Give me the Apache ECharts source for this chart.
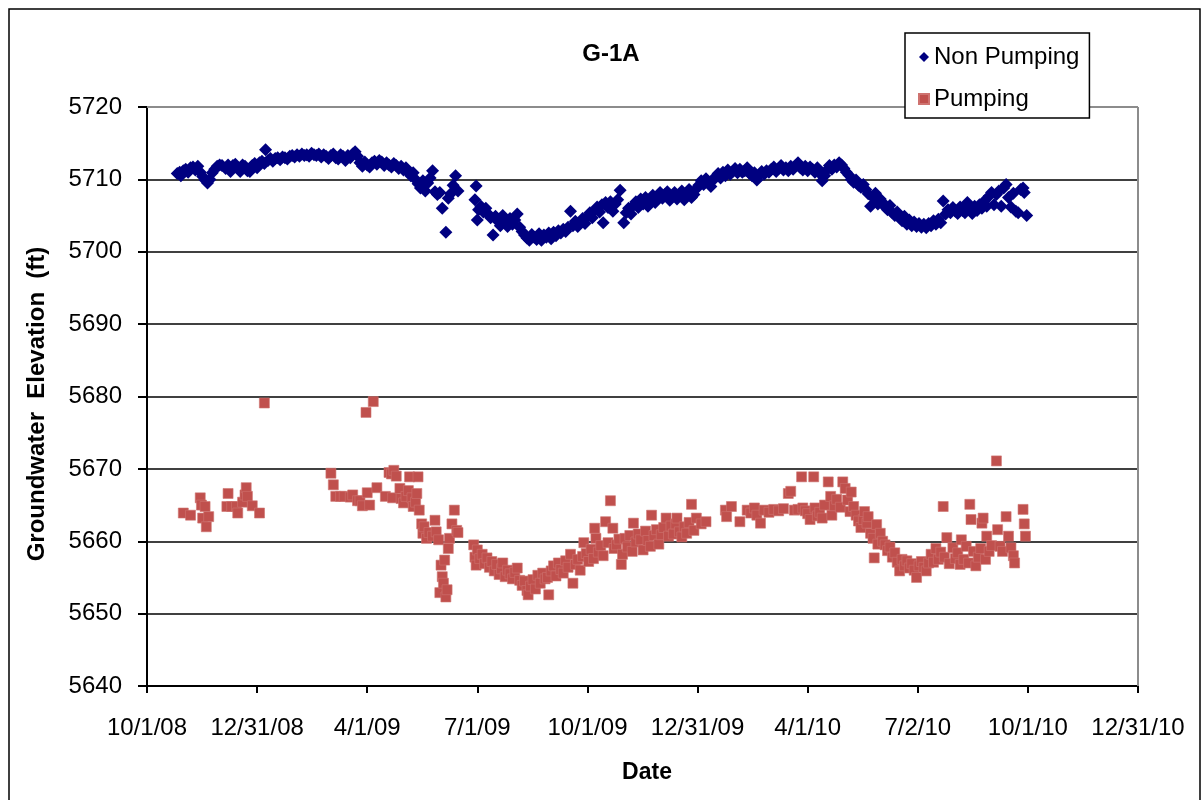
<!DOCTYPE html>
<html>
<head>
<meta charset="utf-8">
<script src="https://cdn.jsdelivr.net/npm/echarts@6/dist/echarts.min.js"></script>
<style>
html,body{margin:0;padding:0;background:#fff;}
#chart{width:1203px;height:800px;}
</style>
</head>
<body>
<div id="chart"></div>
<script>
// x values are days since 10/1/08
const xTickLabels = ['10/1/08','12/31/08','4/1/09','7/1/09','10/1/09','12/31/09','4/1/10','7/2/10','10/1/10','12/31/10'];

const nonPumpingDays = [
25,27,28,30,32,34,36,38,40,42,
44,46,48,50,52,54,56,58,60,62,
65,67,69,71,73,75,77,79,81,83,
85,87,89,91,93,95,97,98,100,102,
104,106,108,110,112,114,116,118,120,122,
124,126,128,130,132,134,136,138,140,142,
144,146,148,150,152,154,156,158,160,162,
164,166,168,170,172,174,176,178,180,182,
184,186,188,190,192,194,196,198,200,202,
204,206,208,210,212,214,216,218,220,222,
224,226,228,230,232,234,236,238,240,242,
244,247,249,251,253,255,257,271,272,273,
274,276,278,280,282,284,286,288,290,292,
294,296,298,300,302,304,306,308,310,312,
314,316,318,320,322,324,326,328,330,332,
334,336,338,340,342,344,346,348,350,352,
354,356,358,360,362,364,366,368,370,372,
374,376,377,379,381,383,385,387,389,391,
394,396,398,400,402,404,406,408,410,412,
414,416,418,420,422,424,426,428,430,432,
434,436,438,440,442,444,446,448,450,452,
454,456,458,460,462,464,466,468,470,472,
474,476,478,480,482,484,486,488,490,492,
494,496,498,500,502,504,506,508,510,512,
514,516,518,520,522,524,526,528,530,532,
534,536,538,540,542,544,546,548,550,552,
554,556,558,560,562,564,566,568,570,572,
574,576,578,580,582,584,586,588,590,592,
594,596,598,600,602,604,606,608,610,612,
614,616,618,620,622,624,626,628,630,632,
634,636,638,640,642,644,646,648,650,652,
654,656,658,660,662,664,666,668,670,672,
674,676,678,680,682,684,686,688,690,692,
694,696,698,700,702,704,706,708,710,712,
714,716,718,720,722,724,725,727
];
const nonPumpingValues = [
5710.8,5711.0,5710.5,5711.2,5711.4,5711.0,5711.6,5711.7,5711.3,5711.8,
5711.0,5710.4,5709.9,5709.5,5710.0,5710.9,5711.4,5711.8,5712.0,5711.9,
5711.5,5712.0,5711.1,5711.9,5712.1,5711.6,5711.1,5712.0,5711.8,5711.2,
5711.1,5711.9,5712.2,5711.6,5712.3,5712.5,5712.2,5714.1,5712.6,5712.9,
5712.5,5712.9,5713.0,5712.7,5713.1,5713.0,5712.8,5713.2,5713.3,5713.1,
5713.4,5713.2,5713.5,5713.3,5713.4,5713.2,5713.6,5713.4,5713.3,5713.5,
5713.1,5713.4,5713.2,5712.9,5713.3,5713.5,5713.0,5712.8,5713.4,5713.2,
5712.6,5713.3,5713.0,5713.5,5713.8,5713.2,5712.3,5711.8,5712.4,5712.0,
5711.7,5712.3,5712.5,5712.1,5712.6,5712.4,5711.9,5712.3,5712.0,5711.7,
5712.2,5711.9,5711.5,5711.8,5711.3,5711.6,5711.0,5710.5,5710.9,5710.0,
5709.4,5708.8,5709.8,5708.4,5709.5,5710.2,5711.2,5708.3,5707.9,5708.2,
5706.0,5702.7,5707.4,5708.0,5709.2,5710.5,5708.4,5707.2,5709.1,5704.4,
5705.8,5706.3,5705.5,5706.0,5705.2,5704.7,5702.3,5704.9,5704.2,5703.6,
5705.0,5704.1,5703.5,5704.6,5703.8,5704.4,5705.2,5703.4,5702.8,5702.3,
5701.9,5701.6,5702.4,5702.0,5701.7,5702.5,5701.6,5702.3,5702.0,5702.6,
5701.8,5702.7,5702.2,5702.9,5702.6,5703.1,5702.8,5703.4,5705.6,5703.6,
5704.2,5703.5,5704.0,5704.6,5703.9,5704.8,5705.4,5704.7,5705.7,5706.2,
5705.5,5706.5,5704.0,5706.8,5706.1,5706.9,5705.6,5706.6,5707.2,5708.5,
5704.0,5705.4,5706.0,5705.2,5706.4,5706.9,5706.1,5707.3,5706.6,5707.5,
5706.3,5707.0,5707.8,5706.8,5707.6,5708.2,5707.4,5707.9,5708.3,5707.1,
5707.6,5708.2,5707.3,5707.8,5708.4,5707.2,5708.0,5708.6,5707.5,5707.9,
5708.7,5709.2,5709.8,5709.3,5710.1,5709.5,5709.0,5709.9,5710.4,5710.8,
5710.2,5711.0,5710.5,5711.3,5710.7,5711.1,5711.5,5710.9,5711.4,5711.0,
5711.2,5711.6,5710.8,5710.5,5710.9,5709.9,5710.6,5711.1,5710.7,5711.2,
5711.0,5711.4,5711.7,5711.1,5711.5,5711.9,5711.3,5711.6,5711.2,5711.8,
5711.4,5711.9,5712.3,5711.6,5711.3,5711.8,5711.2,5711.7,5711.4,5711.0,
5711.6,5710.8,5709.8,5710.5,5711.3,5711.9,5711.4,5712.0,5711.7,5712.3,
5712.0,5711.5,5711.0,5710.6,5710.0,5709.6,5709.9,5709.2,5708.9,5709.3,
5708.6,5708.0,5706.3,5707.5,5708.1,5706.6,5707.3,5706.8,5706.2,5705.8,
5706.4,5705.4,5705.0,5705.5,5704.7,5704.3,5704.9,5703.8,5704.4,5703.6,
5704.1,5703.5,5703.9,5703.4,5703.8,5703.3,5703.9,5703.6,5704.3,5703.8,
5704.5,5704.0,5707.0,5705.2,5705.8,5705.4,5706.1,5705.6,5705.3,5706.2,
5705.7,5705.4,5706.8,5705.9,5705.3,5706.3,5705.7,5706.5,5706.0,5707.0,
5706.3,5707.7,5708.2,5706.5,5707.9,5708.4,5706.3,5708.8,5709.3,5707.5,
5706.2,5708.1,5705.6,5705.4,5708.6,5708.8,5708.2,5705.0
];

const pumpingDays = [
30,36,44,45,46,48,49,51,66,67,
70,74,75,79,81,82,83,87,93,97,
152,154,156,160,163,168,170,174,176,178,
181,182,184,187,190,197,200,202,204,206,
203,209,210,212,214,216,217,219,220,222,
223,224,225,227,228,229,231,233,236,238,
239,241,242,243,244,245,246,247,248,249,
250,252,254,256,257,270,271,272,273,275,
277,279,281,283,285,287,289,291,293,294,
296,298,300,302,304,306,308,310,312,314,
315,317,319,321,323,325,327,329,331,332,
334,336,338,340,342,344,346,348,350,352,
354,356,358,360,361,363,365,367,369,370,
371,373,375,377,379,381,383,385,386,388,
390,392,393,395,397,399,401,402,404,406,
408,410,412,414,416,417,419,421,423,425,
427,429,431,433,435,437,438,440,442,444,
446,448,450,452,454,458,462,478,479,483,
490,496,499,502,504,507,510,514,518,522,
526,530,532,535,538,541,542,544,546,548,
551,552,554,556,558,560,563,565,566,568,
570,573,575,577,579,581,582,584,586,588,
590,592,593,595,596,598,600,601,603,604,
606,608,610,612,614,616,618,620,622,624,
626,628,630,632,634,636,638,640,642,644,
646,648,650,652,654,656,658,659,661,663,
666,668,670,672,673,675,677,679,680,681,
683,685,687,689,690,691,693,694,696,698,
702,703,705,707,710,712,714,716,717,724,
725,726
];
const pumpingValues = [
5663.9,5663.6,5666.0,5665.0,5663.2,5664.8,5662.0,5663.4,5664.8,5666.6,
5664.8,5664.8,5663.9,5665.4,5666.4,5667.4,5666.2,5664.9,5663.9,5679.1,
5669.4,5667.8,5666.2,5666.2,5666.2,5666.1,5666.4,5665.6,5665.6,5664.9,
5677.8,5666.7,5665.0,5679.3,5667.4,5666.2,5669.5,5669.3,5669.8,5669.0,
5666.0,5667.3,5665.9,5665.3,5666.2,5667.0,5668.9,5666.0,5664.8,5665.4,
5666.6,5668.9,5664.3,5662.4,5661.1,5662.0,5660.4,5661.2,5660.7,5662.9,
5661.3,5660.2,5652.9,5656.7,5655.1,5654.2,5657.4,5652.3,5653.3,5659.0,
5660.4,5662.4,5664.3,5661.5,5661.2,5659.5,5657.8,5656.7,5658.8,5657.6,
5658.2,5656.9,5657.7,5656.4,5657.2,5655.9,5656.8,5655.4,5656.2,5657.0,
5655.1,5656.0,5655.5,5654.8,5655.7,5656.3,5654.6,5653.9,5654.5,5653.2,
5652.6,5653.8,5654.7,5653.4,5655.3,5654.2,5655.6,5654.8,5655.0,5652.6,
5655.9,5656.6,5655.2,5657.0,5656.1,5655.6,5657.3,5656.4,5658.2,5654.2,
5656.8,5657.5,5656.0,5657.9,5659.8,5658.3,5657.2,5658.9,5657.6,5661.8,
5660.4,5658.5,5659.4,5658.0,5662.7,5659.8,5665.6,5661.8,5659.0,5659.5,
5660.3,5656.8,5658.2,5660.4,5659.2,5660.8,5658.6,5662.5,5659.9,5661.0,
5660.2,5658.8,5661.4,5660.1,5659.3,5663.6,5660.8,5661.6,5659.6,5660.9,
5661.9,5663.2,5660.7,5662.1,5661.0,5662.4,5663.2,5661.3,5660.6,5662.0,
5661.1,5662.6,5665.1,5661.5,5663.2,5662.4,5662.7,5664.3,5663.4,5664.8,
5662.7,5664.3,5663.9,5664.6,5663.6,5662.5,5664.3,5664.0,5664.4,5664.2,
5664.5,5666.6,5666.9,5664.3,5664.4,5668.9,5664.6,5664.2,5663.8,5663.0,
5668.9,5664.6,5663.5,5664.0,5663.2,5665.0,5668.2,5666.2,5663.6,5664.9,
5665.8,5664.7,5668.2,5667.3,5665.7,5664.1,5666.8,5664.8,5663.6,5662.8,
5661.9,5663.0,5664.1,5662.5,5663.4,5661.1,5660.4,5657.7,5662.3,5659.6,
5661.1,5660.0,5659.5,5658.7,5659.2,5657.8,5658.4,5657.1,5655.9,5657.5,
5656.6,5657.3,5656.3,5656.9,5656.0,5655.0,5656.6,5657.2,5656.4,5655.9,
5657.0,5658.2,5657.1,5659.0,5657.5,5658.5,5664.8,5657.8,5660.5,5656.9,
5659.1,5657.6,5658.4,5656.8,5660.2,5657.5,5659.3,5657.0,5665.1,5663.0,
5658.6,5656.6,5657.8,5659.0,5662.5,5663.2,5657.5,5660.7,5658.6,5659.4,
5671.1,5661.6,5659.3,5658.6,5663.4,5660.7,5659.1,5658.0,5657.0,5664.4,
5662.4,5660.7
];

const FONT = '"Liberation Sans", Arial, sans-serif';
const pair = (xs, ys) => xs.map((d, i) => [d, ys[i]]);

const chart = echarts.init(document.getElementById('chart'), null, {renderer: 'canvas'});
chart.setOption({
  animation: false,
  backgroundColor: '#fff',
  grid: {left: 147, right: 65, top: 107, bottom: 114, containLabel: false},
  legend: {
    orient: 'vertical',
    left: 905, top: 33,
    padding: [12, 10, 7, 13],
    itemGap: 18,
    itemWidth: 10, itemHeight: 10,
    backgroundColor: '#fff',
    borderColor: '#000', borderWidth: 1.5,
    textStyle: {fontFamily: FONT, fontSize: 24, color: '#000'},
    data: [
      {name: 'Non Pumping', icon: 'diamond'},
      {name: 'Pumping', icon: 'rect'}
    ],
    z: 10
  },
  xAxis: {
    type: 'value', min: 0, max: 819, interval: 91,
    axisLine: {lineStyle: {color: '#000', width: 2}},
    axisTick: {show: true, inside: false, length: 7, lineStyle: {color: '#000', width: 2}},
    axisLabel: {
      margin: 30, fontFamily: FONT, fontSize: 24, color: '#000',
      formatter: v => xTickLabels[Math.round(v / 91)]
    },
    splitLine: {show: false}
  },
  yAxis: {
    type: 'value', min: 5640, max: 5720, interval: 10,
    axisLine: {show: true, lineStyle: {color: '#000', width: 2}},
    axisTick: {show: true, inside: false, length: 9, lineStyle: {color: '#000', width: 2}},
    axisLabel: {margin: 25, fontFamily: FONT, fontSize: 24, color: '#000', formatter: v => String(v)},
    splitLine: {show: true, lineStyle: {color: '#000', width: 1.6}}
  },
  graphic: [
    {type: 'rect', shape: {x: 9, y: 9, width: 1191, height: 820}, style: {fill: null, stroke: '#000', lineWidth: 1.5}, z: 0, silent: true},
    {type: 'line', shape: {x1: 147, y1: 107, x2: 1138, y2: 107}, style: {stroke: '#8c8c8c', lineWidth: 2}, z: 5},
    {type: 'line', shape: {x1: 1138, y1: 107, x2: 1138, y2: 686}, style: {stroke: '#8c8c8c', lineWidth: 2}, z: 5},
    {type: 'text', x: 611, y: 54, style: {text: 'G-1A', font: 'bold 24px ' + FONT, fill: '#000', textAlign: 'center', textVerticalAlign: 'middle'}},
    {type: 'text', x: 37, y: 404, rotation: Math.PI / 2, style: {text: 'Groundwater  Elevation  (ft)', font: 'bold 24px ' + FONT, fill: '#000', textAlign: 'center', textVerticalAlign: 'middle'}},
    {type: 'text', x: 647, y: 773, style: {text: 'Date', font: 'bold 23px ' + FONT, fill: '#000', textAlign: 'center', textVerticalAlign: 'middle'}}
  ],
  series: [
    {
      name: 'Non Pumping', type: 'scatter',
      symbol: 'diamond', symbolSize: 13,
      itemStyle: {color: '#000080', opacity: 1},
      data: pair(nonPumpingDays, nonPumpingValues), z: 3
    },
    {
      name: 'Pumping', type: 'scatter',
      symbol: 'rect', symbolSize: 10,
      itemStyle: {color: '#C0504D', borderColor: '#CF7370', borderWidth: 0.6, opacity: 1},
      data: pair(pumpingDays, pumpingValues), z: 2
    }
  ]
});
</script>
</body>
</html>
